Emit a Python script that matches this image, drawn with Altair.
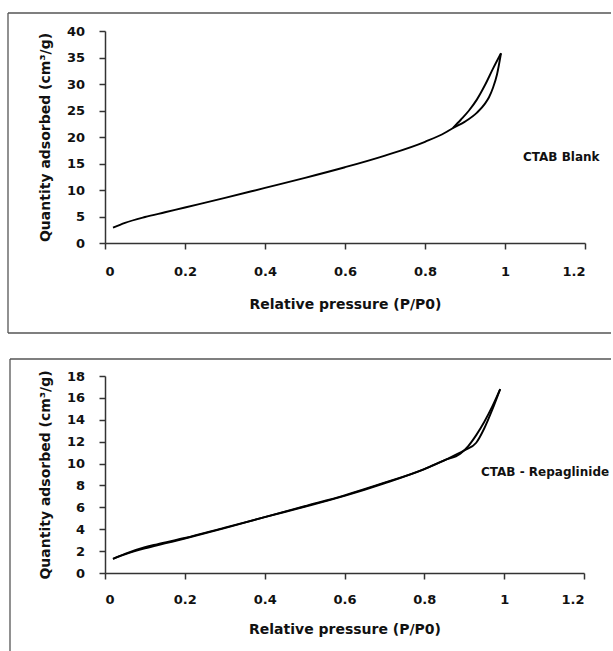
import altair as alt
import pandas as pd

FONT = "DejaVu Sans"

# ---- Top panel: CTAB Blank ----
top_ads_p = [0.02, 0.05, 0.1, 0.15, 0.2, 0.3, 0.4, 0.5, 0.6, 0.7, 0.8, 0.85, 0.87, 0.9, 0.93, 0.95, 0.96, 0.97, 0.98, 0.99]
top_ads_q = [2.9, 3.8, 4.9, 5.8, 6.7, 8.5, 10.4, 12.3, 14.3, 16.5, 19.1, 20.8, 21.7, 22.9, 24.6, 26.3, 27.5, 29.3, 31.8, 35.8]
top_des_p = [0.87, 0.89, 0.91, 0.93, 0.95, 0.97, 0.99]
top_des_q = [21.7, 23.3, 25.0, 27.1, 29.8, 32.9, 35.8]

# ---- Bottom panel: CTAB - Repaglinide ----
bot_ads_p = [0.02, 0.05, 0.1, 0.15, 0.2, 0.3, 0.4, 0.5, 0.6, 0.7, 0.8, 0.85, 0.9, 0.93, 0.95, 0.97, 0.99]
bot_ads_q = [1.3, 1.7, 2.25, 2.7, 3.15, 4.1, 5.1, 6.05, 7.05, 8.2, 9.5, 10.3, 11.2, 11.9, 13.2, 14.9, 16.8]
bot_des_p = [0.02, 0.05, 0.1, 0.13, 0.2, 0.3, 0.4, 0.5, 0.6, 0.7, 0.8, 0.85, 0.89, 0.91, 0.93, 0.95, 0.97, 0.99]
bot_des_q = [1.3, 1.75, 2.35, 2.62, 3.2, 4.15, 5.1, 6.1, 7.1, 8.25, 9.5, 10.3, 10.9, 11.6, 12.6, 13.8, 15.2, 16.8]

x_ticks = [0, 0.2, 0.4, 0.6, 0.8, 1, 1.2]
top_y_ticks = [0, 5, 10, 15, 20, 25, 30, 35, 40]
bot_y_ticks = [0, 2, 4, 6, 8, 10, 12, 14, 16, 18]

x_title = "Relative pressure (P/P0)"
y_title = "Quantity adsorbed (cm³/g)"


def make_df(ap, aq, dp, dq):
    rows = [{"p": p, "q": q, "branch": "ads"} for p, q in zip(ap, aq)]
    rows += [{"p": p, "q": q, "branch": "des"} for p, q in zip(dp, dq)]
    return pd.DataFrame(rows)


def panel(df, ymax, yticks, w, h, label, lx, ly, lsize, xlp, xtp,
          box_left, box_top, box_bottom, box_right, draw_bottom):
    x = alt.X("p:Q", scale=alt.Scale(domain=[0, 1.2], nice=False),
              axis=alt.Axis(values=x_ticks, format="~g", title=x_title,
                            labelPadding=xlp, titlePadding=xtp))
    y = alt.Y("q:Q", scale=alt.Scale(domain=[0, ymax], nice=False),
              axis=alt.Axis(values=yticks, format="~g", title=y_title))
    lines = alt.Chart(df).mark_line(color="black", strokeWidth=1.9, interpolate="monotone").encode(
        x=x, y=y, detail="branch:N", order="p:Q")
    text = alt.Chart(pd.DataFrame({"p": [lx], "q": [ly], "t": [label]})).mark_text(
        align="left", baseline="middle", font=FONT, fontWeight="bold", fontSize=lsize, color="#111"
    ).encode(x=x, y=y, text="t:N")
    one = pd.DataFrame({"a": [0]})
    bc = "#555"
    top_rule = alt.Chart(one).mark_rule(color=bc, strokeWidth=1.3).encode(
        x=alt.value(box_left), x2=alt.value(box_right), y=alt.value(box_top))
    left_rule = alt.Chart(one).mark_rule(color=bc, strokeWidth=1.3).encode(
        x=alt.value(box_left), y=alt.value(box_top), y2=alt.value(box_bottom))
    layers = [lines, text, top_rule, left_rule]
    if draw_bottom:
        bottom_rule = alt.Chart(one).mark_rule(color=bc, strokeWidth=1.3).encode(
            x=alt.value(box_left), x2=alt.value(box_right), y=alt.value(box_bottom))
        layers.append(bottom_rule)
    return alt.layer(*layers).properties(width=w, height=h)


top = panel(make_df(top_ads_p, top_ads_q, top_des_p, top_des_q), 40, top_y_ticks,
            480, 212, "CTAB Blank", 1.045, 16.2, 12, 16, 19, -97, -18, 302, 506, True)
bottom = panel(make_df(bot_ads_p, bot_ads_q, bot_des_p, bot_des_q), 18, bot_y_ticks,
               479, 197, "CTAB - Repaglinide", 0.942, 9.23, 12, 14, 16, -95, -17, 275, 506, False)

chart = alt.vconcat(top, bottom, spacing=24).properties(
    padding={"left": 7, "top": 12, "right": 0, "bottom": 0}
).configure_view(stroke=None).configure_axis(
    grid=False, labelOverlap=False,
    domainColor="#333", domainWidth=1.5,
    tickColor="#333", tickWidth=1.5, tickSize=6,
    labelFont=FONT, labelFontSize=13, labelFontWeight="bold", labelColor="#111",
    titleFont=FONT, titleFontSize=14, titleFontWeight="bold", titleColor="#111",
).configure_axisY(labelPadding=14.5, titlePadding=14)

chart.save("out.html", embed_options={"renderer": "svg", "actions": False})
